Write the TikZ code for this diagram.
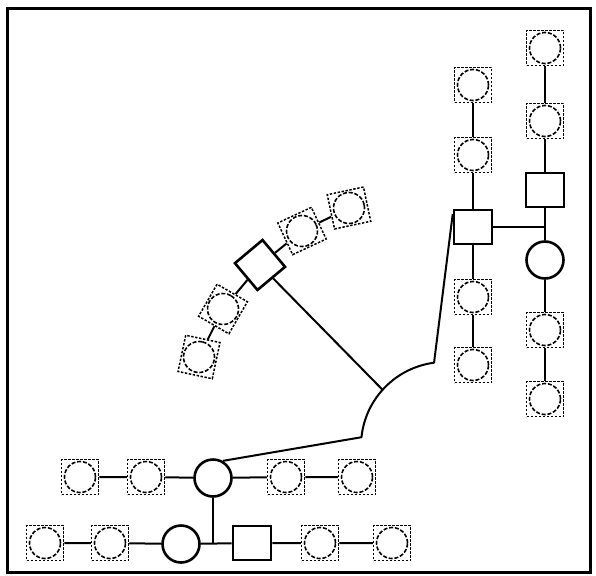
\documentclass[tikz,border=0pt]{standalone}
\usetikzlibrary{calc}
\begin{document}
\begin{tikzpicture}[x=1pt,y=-1pt,
  conn/.style={line width=2pt},
  dnode/.style={draw, dash pattern=on 2.4pt off 1.6pt, line width=1.5pt,
    minimum width=37pt, minimum height=35pt, inner sep=0pt,
    path picture={\draw[dash pattern=on 4pt off 1.8pt, line width=1.6pt]
      (path picture bounding box.center) circle (15.5pt);}},
  snode/.style={draw, line width=2.6pt, minimum width=38pt, minimum height=34pt, inner sep=0pt},
  cnode/.style={draw, circle, line width=2.6pt, minimum size=37pt, inner sep=0pt}]
\useasboundingbox (0,0) rectangle (596,575);
\draw[line width=3pt] (7,9) rectangle (590,572);

% right column A
\node[dnode] (a1) at (473,85) {};
\node[dnode] (a2) at (473,155) {};
\node[snode] (sa) at (473,227) {};
\node[dnode] (a3) at (473,297) {};
\node[dnode] (a4) at (473,365) {};
% right column B
\node[dnode] (b1) at (545,48) {};
\node[dnode] (b2) at (545,121) {};
\node[snode] (sb) at (545,190) {};
\node[cnode] (cb) at (545,260) {};
\node[dnode] (b3) at (545,330) {};
\node[dnode] (b4) at (545,399) {};
\coordinate (jb) at (545,227);

% rotated chain
\node[dnode, rotate=78] (r1) at (199,357) {};
\node[dnode, rotate=60] (r2) at (223,309) {};
\node[snode, minimum width=36pt, minimum height=35pt, rotate=40] (rs) at (260,265) {};
\node[dnode, rotate=25] (r4) at (302,231) {};
\node[dnode, rotate=12] (r5) at (349,208) {};

% bottom row 1
\node[dnode] (e1) at (80,477) {};
\node[dnode] (e2) at (146,477) {};
\node[cnode] (c1) at (213,478) {};
\node[dnode] (e3) at (286,477) {};
\node[dnode] (e4) at (357,477) {};
% bottom row 2
\node[dnode] (f1) at (45,543) {};
\node[dnode] (f2) at (110,543) {};
\node[cnode] (c2) at (181,544) {};
\node[snode] (s2) at (252,543) {};
\node[dnode] (f3) at (320,543) {};
\node[dnode] (f4) at (392,543) {};
\coordinate (jc) at (213,544);

% arc
\coordinate (C) at (445,446);
\coordinate (p1) at ($(C)+(97.5:84pt)$);
\coordinate (jj) at ($(C)+(138:84pt)$);
\coordinate (p2) at ($(C)+(174:84pt)$);
\coordinate (sastart) at ($(sa.north west)!0.15!(sa.south west)$);

\draw[conn] (a1) -- (a2) -- (sa) -- (a3) -- (a4);
\draw[conn] (b1) -- (b2) -- (sb) -- (cb) -- (b3) -- (b4);
\draw[conn] (sa) -- (jb);
\draw[conn] (r1) -- (r2) -- (rs) -- (r4) -- (r5);
\draw[conn] (rs) -- (jj);
\draw[conn] (e1) -- (e2) -- (c1) -- (e3) -- (e4);
\draw[conn] (f1) -- (f2) -- (c2) -- (s2) -- (f3) -- (f4);
\draw[conn] (c1) -- (jc);
\draw[conn, line join=round] (sastart) -- (p1) arc[start angle=97.5, end angle=174, radius=84pt] -- (c1.60);
\end{tikzpicture}
\end{document}
